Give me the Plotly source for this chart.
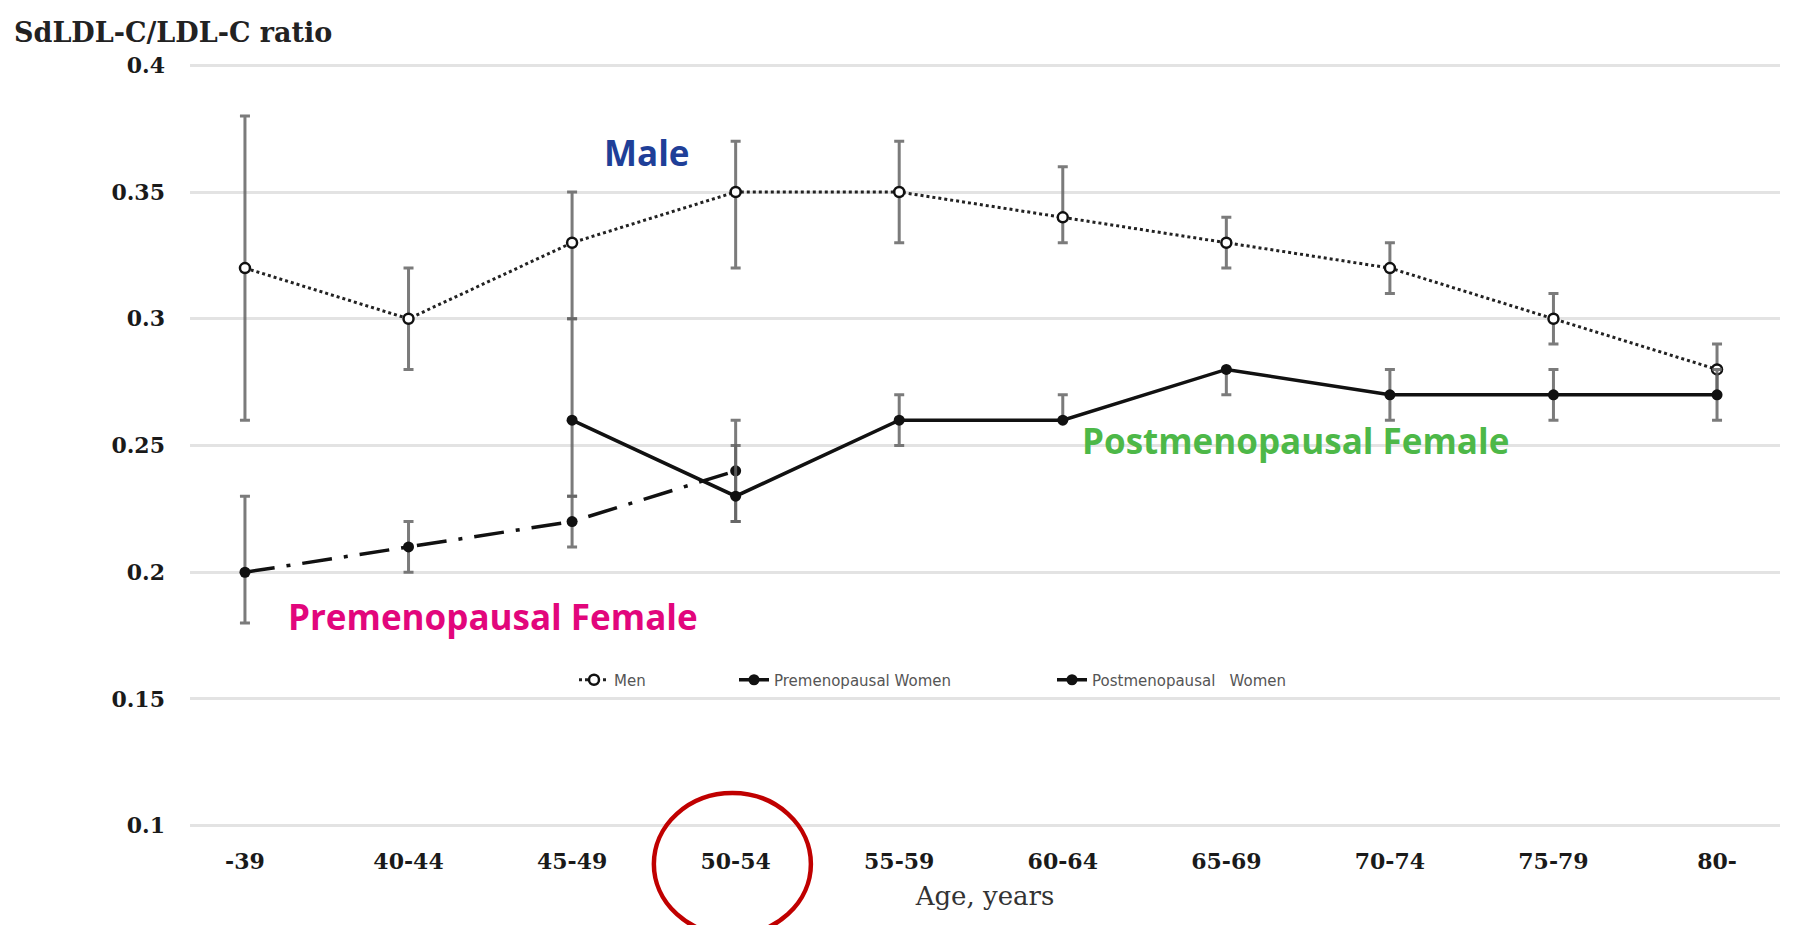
import plotly.graph_objects as go

# ---------------- data ----------------
categories = ["-39", "40-44", "45-49", "50-54", "55-59", "60-64", "65-69", "70-74", "75-79", "80-"]

men = [0.32, 0.30, 0.33, 0.35, 0.35, 0.34, 0.33, 0.32, 0.30, 0.28]
men_hi = [0.38, 0.32, 0.35, 0.37, 0.37, 0.36, 0.34, 0.33, 0.31, 0.29]
men_lo = [0.26, 0.28, 0.30, 0.32, 0.33, 0.33, 0.32, 0.31, 0.29, 0.27]

pre = [0.20, 0.21, 0.22, 0.24, None, None, None, None, None, None]
pre_hi = [0.23, 0.22, 0.23, 0.26, None, None, None, None, None, None]
pre_lo = [0.18, 0.20, 0.21, 0.22, None, None, None, None, None, None]

post = [None, None, 0.26, 0.23, 0.26, 0.26, 0.28, 0.27, 0.27, 0.27]
post_hi = [None, None, 0.30, 0.25, 0.27, 0.27, 0.28, 0.28, 0.28, 0.28]
post_lo = [None, None, 0.23, 0.22, 0.25, 0.26, 0.27, 0.26, 0.26, 0.26]

y_ticks = [0.1, 0.15, 0.2, 0.25, 0.3, 0.35, 0.4]
y_tick_text = ["0.1", "0.15", "0.2", "0.25", "0.3", "0.35", "0.4"]

# ---------------- layout geometry ----------------
W, H = 1794, 925
L, R, T, B = 190, 14, 64, 98
X_RANGE = [-0.336, 9.385]
Y_RANGE = [0.0995, 0.4005]
PW, PH = W - L - R, H - T - B


def px_x(px):
    return (px - L) / PW


def px_y(py):
    return (H - B - py) / PH


def cat_x(idx):
    return (idx - X_RANGE[0]) / (X_RANGE[1] - X_RANGE[0])


def err(vals, hi, lo):
    plus, minus = [], []
    for v, h, l in zip(vals, hi, lo):
        if v is None:
            plus.append(0)
            minus.append(0)
        else:
            plus.append(round(h - v, 4))
            minus.append(round(v - l, 4))
    return plus, minus


ERR_COLOR = "rgba(100,100,100,0.85)"

fig = go.Figure()

mp, mm = err(men, men_hi, men_lo)
fig.add_trace(go.Scatter(
    x=categories, y=men, name="Men", mode="lines+markers",
    line=dict(color="#222", width=3, dash="dot"),
    marker=dict(symbol="circle", size=10, color="white", line=dict(color="#111", width=2.5)),
    error_y=dict(type="data", array=mp, arrayminus=mm, color=ERR_COLOR, thickness=3, width=5),
    legend="legend",
))

pp, pm = err(pre, pre_hi, pre_lo)
fig.add_trace(go.Scatter(
    x=categories, y=pre, name="Premenopausal Women", mode="lines+markers",
    line=dict(color="#111", width=3.5, dash="30px,12px,4px,12px"),
    marker=dict(symbol="circle", size=11, color="#111"),
    error_y=dict(type="data", array=pp, arrayminus=pm, color=ERR_COLOR, thickness=3, width=5),
    legend="legend2",
))

qp, qm = err(post, post_hi, post_lo)
fig.add_trace(go.Scatter(
    x=categories, y=post, name="Postmenopausal\u00a0\u00a0 Women", mode="lines+markers",
    line=dict(color="#111", width=3.5),
    marker=dict(symbol="circle", size=11, color="#111"),
    error_y=dict(type="data", array=qp, arrayminus=qm, color=ERR_COLOR, thickness=3, width=5),
    legend="legend3",
))

legend_font = dict(family="DejaVu Sans", size=15, color="#555")
leg_common = dict(orientation="h", xanchor="left", yanchor="middle", bgcolor="rgba(0,0,0,0)",
                  font=legend_font, borderwidth=0)

fig.update_layout(
    width=W, height=H,
    margin=dict(l=L, r=R, t=T, b=B, autoexpand=False),
    paper_bgcolor="white", plot_bgcolor="white",
    showlegend=True,
    legend=dict(x=px_x(574), y=px_y(680), **leg_common),
    legend2=dict(x=px_x(734), y=px_y(680), **leg_common),
    legend3=dict(x=px_x(1052), y=px_y(680), **leg_common),
    xaxis=dict(
        type="category", categoryorder="array", categoryarray=categories,
        range=X_RANGE, showgrid=False, zeroline=False, showline=False, ticks="",
        tickfont=dict(family="DejaVu Serif", size=22, color="#1a1a1a", weight="bold"),
        ticklabelstandoff=19,
        title=dict(text="Age, years", font=dict(family="DejaVu Serif", size=26, color="#333"), standoff=13),
    ),
    yaxis=dict(
        range=Y_RANGE, tickvals=y_ticks, ticktext=y_tick_text,
        showgrid=True, gridcolor="#e3e3e3", gridwidth=2.5, zeroline=False, showline=False, ticks="",
        tickfont=dict(family="DejaVu Serif", size=22, color="#1a1a1a", weight="bold"),
        ticklabelstandoff=24,
    ),
    annotations=[
        dict(text="<b>SdLDL-C/LDL-C ratio</b>", xref="paper", yref="paper",
             x=px_x(12), y=px_y(33), xanchor="left", yanchor="middle", showarrow=False,
             font=dict(family="DejaVu Serif", size=27, color="#222")),
        dict(text="<b>Male</b>", xref="paper", yref="paper", x=px_x(647), y=px_y(152),
             xanchor="center", yanchor="middle", showarrow=False,
             font=dict(family="Open Sans", size=35, color="#1f3f98")),
        dict(text="<b>Premenopausal Female</b>", xref="paper", yref="paper", x=px_x(493), y=px_y(616),
             xanchor="center", yanchor="middle", showarrow=False,
             font=dict(family="Open Sans", size=35, color="#e2067c")),
        dict(text="<b>Postmenopausal Female</b>", xref="paper", yref="paper", x=px_x(1295), y=px_y(440),
             xanchor="center", yanchor="middle", showarrow=False,
             font=dict(family="Open Sans", size=35, color="#4db848")),
    ],
    shapes=[
        dict(type="circle", xref="paper", yref="paper",
             x0=cat_x(3 - 0.5), x1=cat_x(3 + 0.46), y0=px_y(935), y1=px_y(793),
             line=dict(color="#c00000", width=4.5), fillcolor="rgba(0,0,0,0)"),
    ],
)

fig.write_html("out.html")
